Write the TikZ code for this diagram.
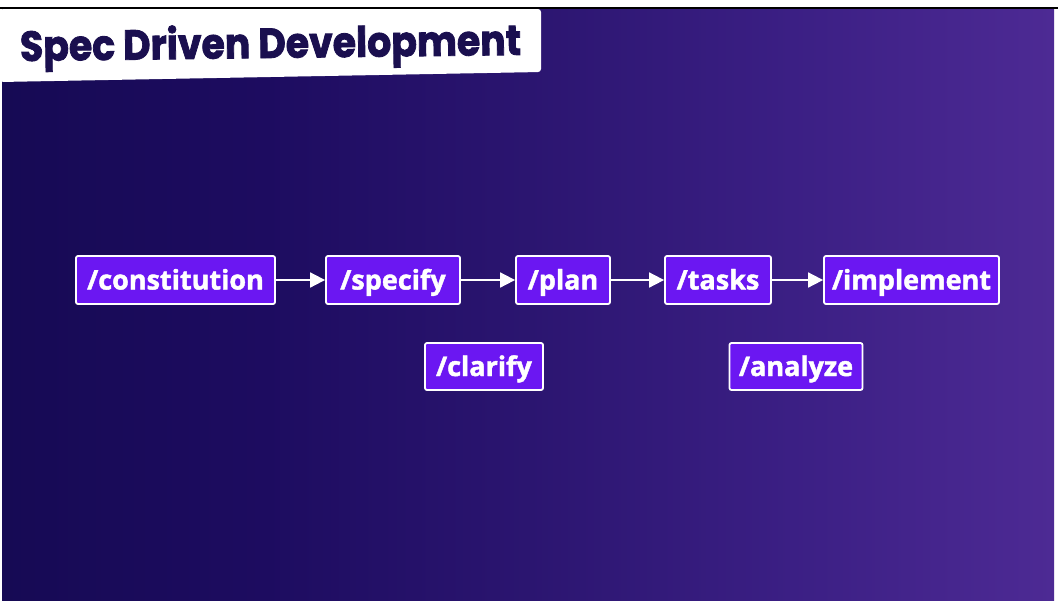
\documentclass[tikz,border=0pt]{standalone}
\usepackage{fontspec}
\usepackage{graphicx}
\usetikzlibrary{arrows.meta}
\newfontfamily\boxfont{Open Sans}[BoldFeatures={FakeBold=1.6}]
\newfontfamily\titlefont{Poppins}[BoldFeatures={FakeBold=2}]
\definecolor{bgA}{HTML}{160A54}
\definecolor{bgB}{HTML}{1D0C60}
\definecolor{bgC}{HTML}{2B1570}
\definecolor{bgD}{HTML}{3B1F84}
\definecolor{bgE}{HTML}{4D2A94}
\definecolor{boxc}{HTML}{6B17F2}
\definecolor{titlec}{HTML}{1A0F4F}
\pgfdeclarehorizontalshading{bgshade}{100bp}{color(0bp)=(bgA); color(25bp)=(bgA); color(37.5bp)=(bgB); color(50bp)=(bgC); color(62.5bp)=(bgD); color(75bp)=(bgE); color(100bp)=(bgE)}
\tikzset{
  cmd/.style={draw=white, line width=1.8pt, fill=boxc, rounded corners=2pt, text=white,
    font=\boxfont\bfseries\fontsize{27}{31}\selectfont, minimum height=48pt, inner sep=0pt,
    text height=19pt, text depth=0pt},
  arr/.style={draw=white, line width=1.8pt, -{Triangle[length=15pt,width=15pt]}}
}
\begin{document}
\begin{tikzpicture}[x=1pt,y=-1pt]
\path[use as bounding box] (0,0) rectangle (1058,600);
\fill[white] (0,0) rectangle (1058,600);
\shade[shading=bgshade] (2,9) rectangle (1054,600);
\draw[black, line width=1.5pt] (0,8) -- (1058,8);
\fill[white, rounded corners=3pt] (0,9) -- (541,9) -- (541,72) -- (0,82) -- cycle;
\node[text=titlec, rotate=0.7, anchor=base west, inner sep=0pt, font=\titlefont\bfseries\fontsize{42}{46}\selectfont] (title) at (20,61) {\scalebox{0.9}[1]{Spec Driven Development}};
\node[cmd, minimum width=199pt] (constitution) at (175.5,280) {/constitution};
\node[cmd, minimum width=134pt] (specify) at (393,280) {/specify};
\node[cmd, minimum width=94pt] (plan) at (563,280) {/plan};
\node[cmd, minimum width=106pt] (tasks) at (718,280) {/tasks};
\node[cmd, minimum width=175pt] (implement) at (911.5,280) {/implement};
\node[cmd, minimum width=118pt, minimum height=47pt] (clarify) at (484,366.5) {/clarify};
\node[cmd, minimum width=133pt, minimum height=47pt] (analyze) at (796,366.5) {/analyze};
\draw[arr] (constitution) -- (specify);
\draw[arr] (specify) -- (plan);
\draw[arr] (plan) -- (tasks);
\draw[arr] (tasks) -- (implement);
\end{tikzpicture}
\end{document}
